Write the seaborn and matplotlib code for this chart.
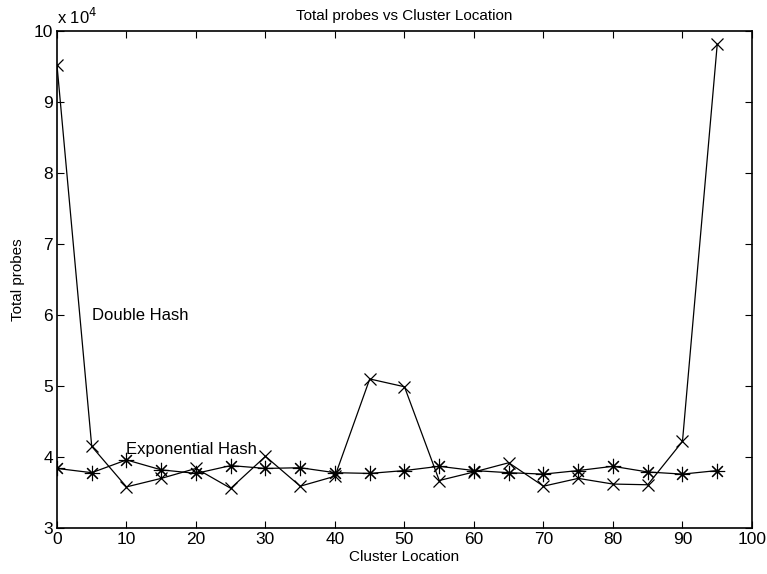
import pandas as pd
import numpy as np
import matplotlib
matplotlib.use("Agg")
import matplotlib.pyplot as plt
import seaborn as sns

# cluster location (x) and total probes (in units of 10^4)
cluster_location = [0, 5, 10, 15, 20, 25, 30, 35, 40, 45, 50, 55, 60, 65, 70, 75, 80, 85, 90, 95]
double_hash = [9.52, 4.15, 3.58, 3.70, 3.84, 3.56, 4.01, 3.59, 3.73, 5.10, 4.99, 3.67, 3.79, 3.92, 3.59, 3.70, 3.62, 3.61, 4.22, 9.81]
exponential_hash = [3.84, 3.78, 3.96, 3.82, 3.77, 3.88, 3.84, 3.85, 3.78, 3.77, 3.81, 3.87, 3.81, 3.78, 3.76, 3.81, 3.87, 3.79, 3.76, 3.81]

df_double = pd.DataFrame({"Cluster Location": cluster_location, "Total probes": double_hash})
df_exp = pd.DataFrame({"Cluster Location": cluster_location, "Total probes": exponential_hash})

sns.set_style("ticks")
plt.rcParams["font.family"] = ["Liberation Sans", "DejaVu Sans"]
for k in ["text.color", "axes.labelcolor", "xtick.color", "ytick.color", "axes.edgecolor"]:
    plt.rcParams[k] = "black"

fig = plt.figure(figsize=(7.67, 5.74), dpi=100)
ax = fig.add_axes([0.0743, 0.080, 0.9061, 0.866])

sns.lineplot(data=df_double, x="Cluster Location", y="Total probes",
             marker="x", color="black", linewidth=0.9, markersize=8,
             markeredgewidth=0.9, markeredgecolor="black", ax=ax)
sns.lineplot(data=df_exp, x="Cluster Location", y="Total probes",
             marker=(8, 2, 0), color="black", linewidth=0.9, markersize=11,
             markeredgewidth=0.8, markeredgecolor="black", ax=ax)

ax.set_xlim(0, 100)
ax.set_ylim(3, 10)
ax.set_xticks(range(0, 101, 10))
ax.set_yticks(range(3, 11))
ax.tick_params(direction="in", top=True, right=True, labelsize=12.5, length=5, width=0.8, pad=3)
for s in ax.spines.values():
    s.set_linewidth(1.2)
    s.set_visible(True)

ax.set_xlabel("Cluster Location", fontsize=11, labelpad=2)
ax.set_ylabel("Total probes", fontsize=11, labelpad=6)
ax.set_title("Total probes vs Cluster Location", fontsize=11, pad=8)
ax.text(0, 10.05, "x 10$^4$", fontsize=12, ha="left", va="bottom")

ax.text(5.1, 6.0, "Double Hash", fontsize=12, ha="left", va="center")
ax.text(10, 4.1, "Exponential Hash", fontsize=12, ha="left", va="center")

fig.savefig("out.png", dpi=100)
